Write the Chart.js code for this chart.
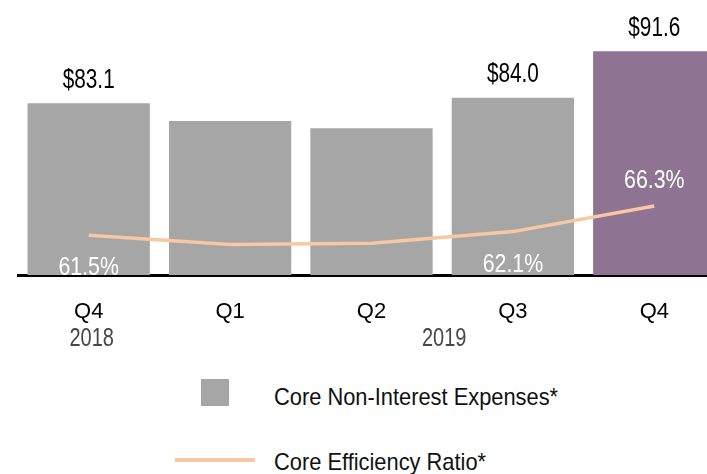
<!DOCTYPE html>
<html>
<head>
<meta charset="utf-8">
<script src="https://cdn.jsdelivr.net/npm/chart.js@4"></script>
<style>
  body { margin: 0; width: 707px; height: 474px; overflow: hidden; background: #fff; position: relative;
         font-family: "Liberation Sans", Arial, sans-serif; }
  #wrap { position: absolute; left: 0; top: 0; width: 725px; height: 360px; }
  .lg { position: absolute; left: 274px; font-size: 24px; color: #111; line-height: 24px;
        white-space: nowrap; transform: scaleX(0.91); transform-origin: left center; }
  .sw { position: absolute; }
</style>
</head>
<body>
<div id="wrap"><canvas id="chart"></canvas></div>
<div class="sw" style="left:201px;top:379px;width:28px;height:27px;background:#a6a6a6"></div>
<div class="lg" style="top:385px">Core Non-Interest Expenses*</div>
<div class="sw" style="left:175px;top:458px;width:80px;height:4px;background:#f8c7a3"></div>
<div class="lg" style="top:450px">Core Efficiency Ratio*</div>
<script>
// ---- data ----
const quarters = ['Q4', 'Q1', 'Q2', 'Q3', 'Q4'];
const years = ['2018', '2019'];
const yearFirst = [0, 1];   // first quarter index of each year
const yearLast = [0, 4];    // last quarter index of each year
const expenses = [83.1, 80.2, 79.0, 84.0, 91.6];
const efficiency = [61.5, 60.0, 60.2, 62.1, 66.3];
const expenseLabels = ['$83.1', '', '', '$84.0', '$91.6'];
const efficiencyLabels = ['61.5%', '', '', '62.1%', '66.3%'];
const efficiencyLabelAt = ['below', '', '', 'below', 'above'];

const FONT = '"Liberation Sans", Arial, sans-serif';
const GRAY = '#a6a6a6', PURPLE = '#8f7392', PEACH = '#f8c7a3';

// draw text squeezed horizontally (source deck uses a narrow face)
function narrowText(ctx, text, x, y, sx) {
    ctx.save();
    ctx.translate(x, y);
    ctx.scale(sx, 1);
    ctx.fillText(text, 0, 0);
    ctx.restore();
}

const labelPlugin = {
    id: 'labels',
    afterDatasetsDraw(chart) {
        const ctx = chart.ctx;
        const pts = chart.getDatasetMeta(0).data;
        const bars = chart.getDatasetMeta(1).data;
        ctx.save();
        ctx.textAlign = 'center';
        ctx.textBaseline = 'alphabetic';
        ctx.font = '27px ' + FONT;
        ctx.fillStyle = '#000';
        bars.forEach((b, i) => {
            if (expenseLabels[i]) narrowText(ctx, expenseLabels[i], b.x, b.y - 15.5, 0.77);
        });
        ctx.font = '26px ' + FONT;
        ctx.fillStyle = '#fff';
        pts.forEach((p, i) => {
            if (!efficiencyLabels[i]) return;
            const y = efficiencyLabelAt[i] === 'above' ? p.y - 17.5 : p.y + 40;
            narrowText(ctx, efficiencyLabels[i], p.x, y, 0.82);
        });
        ctx.restore();
    },
    afterDraw(chart) {
        const ctx = chart.ctx;
        const xs = chart.scales.x;
        ctx.save();
        ctx.textAlign = 'center';
        ctx.textBaseline = 'alphabetic';
        ctx.font = '22px ' + FONT;
        ctx.fillStyle = '#000';
        quarters.forEach((q, i) => narrowText(ctx, q, xs.getPixelForValue(i), 318, 1));
        ctx.font = '25px ' + FONT;
        ctx.fillStyle = '#474747';
        years.forEach((y, i) => {
            const x = (xs.getPixelForValue(yearFirst[i]) + xs.getPixelForValue(yearLast[i])) / 2;
            narrowText(ctx, y, x + (i === 0 ? 3 : 2), 346, 0.8);
        });
        ctx.restore();
    }
};

new Chart(document.getElementById('chart'), {
    data: {
        labels: quarters,
        datasets: [
            { type: 'line', label: 'Core Efficiency Ratio*', data: efficiency, borderColor: PEACH,
              borderWidth: 3.5, pointRadius: 0, tension: 0, order: 0 },
            { type: 'bar', label: 'Core Non-Interest Expenses*', data: expenses,
              backgroundColor: expenses.map((v, i) => i === expenses.length - 1 ? PURPLE : GRAY),
              categoryPercentage: 1, barPercentage: 0.865, order: 1 }
        ]
    },
    options: {
        responsive: true,
        maintainAspectRatio: false,
        animation: false,
        layout: { padding: { left: 18, right: 0, top: 0, bottom: 0 } },
        plugins: { legend: { display: false }, tooltip: { enabled: false } },
        scales: {
            x: {
                z: 1,
                grid: { display: false },
                border: { display: true, color: '#000', width: 3 },
                ticks: { display: false },
                afterFit: (s) => { s.height = 85; }
            },
            y: { display: false, min: 55, max: 100 }
        }
    },
    plugins: [labelPlugin]
});
</script>
</body>
</html>
